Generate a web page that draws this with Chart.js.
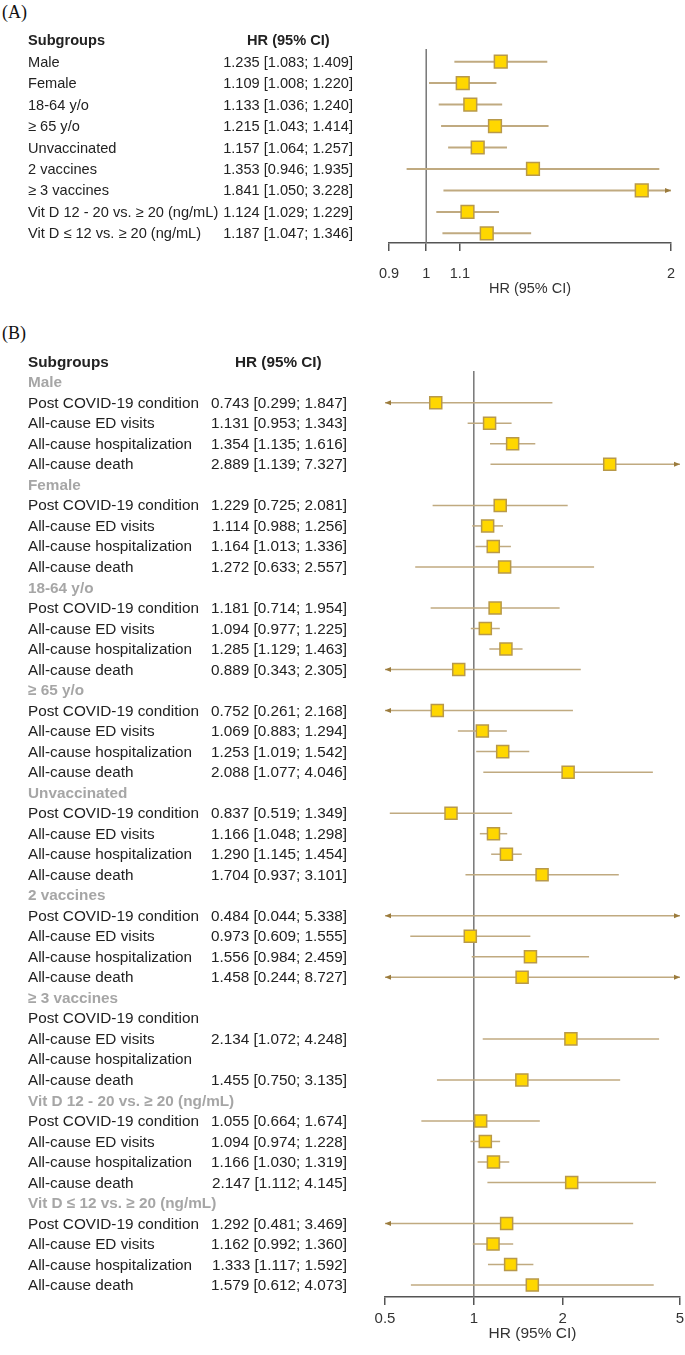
<!DOCTYPE html>
<html>
<head>
<meta charset="utf-8">
<script src="https://cdn.jsdelivr.net/npm/chart.js@4.4.1/dist/chart.umd.min.js"></script>
<style>
  body { margin: 0; background: #fff; }
  #page { position: relative; width: 685px; height: 1355px; overflow: hidden; font-family: "Liberation Sans", Arial, sans-serif; color: #222; }
  .txt { position: absolute; white-space: nowrap; }
  .panel { position: absolute; font-family: "Liberation Serif", "Times New Roman", serif; font-size: 18px; color: #111; }
  .box { position: absolute; left: 0; width: 685px; }
</style>
</head>
<body>
<div id="page">
  <div class="panel" style="left:2px; top:2px;">(A)</div>
  <div class="panel" style="left:2px; top:323px;">(B)</div>
  <div class="box" style="top:40px; height:260px;"><canvas id="chartA"></canvas></div>
  <div class="box" style="top:355px; height:990px;"><canvas id="chartB"></canvas></div>
</div>
<script>
// ---- panel A: overall subgroups ----
const subgroupsA = ["Male", "Female", "18-64 y/o", "\u2265 65 y/o", "Unvaccinated", "2 vaccines", "\u2265 3 vaccines", "Vit D 12 - 20 vs. \u2265 20 (ng/mL)", "Vit D \u2264 12 vs. \u2265 20 (ng/mL)"];
const hrA = [1.235, 1.109, 1.133, 1.215, 1.157, 1.353, 1.841, 1.124, 1.187];
const loA = [1.083, 1.008, 1.036, 1.043, 1.064, 0.946, 1.050, 1.029, 1.047];
const hiA = [1.409, 1.220, 1.240, 1.414, 1.257, 1.935, 3.228, 1.229, 1.346];
const ticksA = [0.9, 1, 1.1, 2];

// ---- panel B: outcomes within subgroups ----
const groupsB = ["Male", "Female", "18-64 y/o", "\u2265 65 y/o", "Unvaccinated", "2 vaccines", "\u2265 3 vaccines", "Vit D 12 - 20 vs. \u2265 20 (ng/mL)", "Vit D \u2264 12 vs. \u2265 20 (ng/mL)"];
const outcomesB = ["Post COVID-19 condition", "All-cause ED visits", "All-cause hospitalization", "All-cause death"];
const hrB = [
  [0.743, 1.131, 1.354, 2.889],
  [1.229, 1.114, 1.164, 1.272],
  [1.181, 1.094, 1.285, 0.889],
  [0.752, 1.069, 1.253, 2.088],
  [0.837, 1.166, 1.290, 1.704],
  [0.484, 0.973, 1.556, 1.458],
  [null, 2.134, null, 1.455],
  [1.055, 1.094, 1.166, 2.147],
  [1.292, 1.162, 1.333, 1.579],
];
const loB = [
  [0.299, 0.953, 1.135, 1.139],
  [0.725, 0.988, 1.013, 0.633],
  [0.714, 0.977, 1.129, 0.343],
  [0.261, 0.883, 1.019, 1.077],
  [0.519, 1.048, 1.145, 0.937],
  [0.044, 0.609, 0.984, 0.244],
  [null, 1.072, null, 0.750],
  [0.664, 0.974, 1.030, 1.112],
  [0.481, 0.992, 1.117, 0.612],
];
const hiB = [
  [1.847, 1.343, 1.616, 7.327],
  [2.081, 1.256, 1.336, 2.557],
  [1.954, 1.225, 1.463, 2.305],
  [2.168, 1.294, 1.542, 4.046],
  [1.349, 1.298, 1.454, 3.101],
  [5.338, 1.555, 2.459, 8.727],
  [null, 4.248, null, 3.135],
  [1.674, 1.228, 1.319, 4.145],
  [3.469, 1.360, 1.592, 4.073],
];
const ticksB = [0.5, 1, 2, 5];

const page = document.getElementById("page");

function addText(str, left, top, h, size, extra) {
  const d = document.createElement("div");
  d.className = "txt";
  d.textContent = str;
  d.style.left = left + "px";
  d.style.top = top - h / 2 + "px";
  d.style.height = h + "px";
  d.style.lineHeight = h + "px";
  d.style.fontSize = size + "px";
  Object.assign(d.style, extra || {});
  page.appendChild(d);
  return d;
}

function addRight(str, right, top, h, size, extra) {
  const d = addText(str, 0, top, h, size, extra);
  d.style.left = "auto";
  d.style.right = 685 - right + "px";
  return d;
}

const fmt = (hr, lo, hi) => hr.toFixed(3) + " [" + lo.toFixed(3) + "; " + hi.toFixed(3) + "]";

// whiskers, arrows and the reference line at HR = 1
const forestPlugin = {
  id: "forest",
  beforeDatasetsDraw(chart) {
    const o = chart.options.plugins.forest;
    const { ctx, chartArea } = chart;
    const xs = chart.scales.x;
    const ys = chart.scales.y;
    ctx.save();
    const x1 = xs.getPixelForValue(1);
    ctx.strokeStyle = "#777";
    ctx.lineWidth = 1.5;
    ctx.beginPath();
    ctx.moveTo(x1, chartArea.top);
    ctx.lineTo(x1, chartArea.bottom);
    ctx.stroke();

    o.rows.forEach((r) => {
      const y = ys.getPixelForValue(r.row);
      const a = r.lo < xs.min ? chartArea.left : xs.getPixelForValue(r.lo);
      const b = r.hi > xs.max ? chartArea.right : xs.getPixelForValue(r.hi);
      ctx.strokeStyle = "#c0aa80";
      ctx.lineWidth = o.width;
      ctx.beginPath();
      ctx.moveTo(a, y);
      ctx.lineTo(b, y);
      ctx.stroke();
      ctx.fillStyle = "#9b7b3c";
      if (r.lo < xs.min) {
        ctx.beginPath();
        ctx.moveTo(a + 6, y - 2.5);
        ctx.lineTo(a, y);
        ctx.lineTo(a + 6, y + 2.5);
        ctx.closePath();
        ctx.fill();
      }
      if (r.hi > xs.max) {
        ctx.beginPath();
        ctx.moveTo(b - 6, y - 2.5);
        ctx.lineTo(b, y);
        ctx.lineTo(b - 6, y + 2.5);
        ctx.closePath();
        ctx.fill();
      }
    });
    ctx.restore();
  },
};

function makeForest(id, rows, cfg) {
  const inRange = rows.filter((r) => r.hr >= cfg.min && r.hr <= cfg.max);
  const pts = inRange.map((r) => ({ x: r.hr, y: r.row }));
  return new Chart(document.getElementById(id), {
    type: "scatter",
    data: {
      datasets: [
        {
          data: pts,
          pointStyle: "rect",
          pointRadius: cfg.radius,
          backgroundColor: "#ffd700",
          borderColor: "#b8994a",
          borderWidth: 1.5,
        },
        {
          data: pts,
          pointStyle: "line",
          rotation: 90,
          pointRadius: 3,
          borderColor: "#8a6d2c",
          borderWidth: 1,
        },
      ],
    },
    options: {
      responsive: true,
      maintainAspectRatio: false,
      animation: false,
      layout: {
        autoPadding: false,
        padding: { left: cfg.left, right: cfg.right, top: cfg.top, bottom: 4 },
      },
      plugins: {
        legend: { display: false },
        tooltip: { enabled: false },
        forest: { rows: rows, width: cfg.lineWidth },
      },
      scales: {
        x: {
          type: "logarithmic",
          min: cfg.min,
          max: cfg.max,
          afterBuildTicks: (scale) => {
            scale.ticks = cfg.ticks.map((v) => ({ value: v }));
          },
          afterFit: (scale) => {
            // fixed axis box so the plot area lines up with the table rows
            scale.height = cfg.axisH;
            scale.paddingLeft = 0;
            scale.paddingRight = 0;
          },
          ticks: {
            autoSkip: false,
            maxRotation: 0,
            padding: cfg.tickPad,
            color: "#333",
            font: { family: "'Liberation Sans', Arial, sans-serif", size: cfg.tickSize, lineHeight: 1 },
            callback: (v) => String(v),
          },
          grid: { drawOnChartArea: false, drawTicks: true, tickLength: 8, color: "#555", lineWidth: 1.5 },
          border: { display: true, color: "#555", width: 1.5 },
          title: {
            display: true,
            text: "HR (95% CI)",
            color: "#333",
            padding: { top: 0, bottom: 0 },
            font: { family: "'Liberation Sans', Arial, sans-serif", size: cfg.titleSize, lineHeight: 1 },
          },
        },
        y: {
          type: "linear",
          display: false,
          reverse: true,
          min: cfg.ymin,
          max: cfg.ymax,
        },
      },
    },
    plugins: [forestPlugin],
  });
}

// ---- panel A text + chart ----
const rowA0 = 61.7, stepA = 21.45, sizeA = 14.6;
addText("Subgroups", 28, rowA0 - stepA, 20, sizeA, { fontWeight: "bold" });
addText("HR (95% CI)", 247, rowA0 - stepA, 20, sizeA, { fontWeight: "bold" });
const rowsA = [];
subgroupsA.forEach((s, i) => {
  addText(s, 28, rowA0 + i * stepA, 20, sizeA);
  addRight(fmt(hrA[i], loA[i], hiA[i]), 353, rowA0 + i * stepA, 20, sizeA);
  rowsA.push({ row: i, hr: hrA[i], lo: loA[i], hi: hiA[i] });
});
makeForest("chartA", rowsA, {
  min: 0.9, max: 2, ticks: ticksA, left: 389, right: 14, top: 9,
  ymin: -0.59, ymax: 8.45, radius: 9, lineWidth: 2,
  axisH: 53, tickPad: 15.5, tickSize: 14.5, titleSize: 14.5,
});

// ---- panel B text + chart ----
const rowB0 = 382.3, stepB = 20.52, sizeB = 15.3;
addText("Subgroups", 28, rowB0 - stepB, 20, sizeB, { fontWeight: "bold" });
addText("HR (95% CI)", 235, rowB0 - stepB, 20, sizeB, { fontWeight: "bold" });
const rowsB = [];
groupsB.forEach((g, gi) => {
  const base = gi * 5;
  addText(g, 28, rowB0 + base * stepB, 20, sizeB, { fontWeight: "bold", color: "#a6a6a6" });
  outcomesB.forEach((o, oi) => {
    const r = base + oi + 1;
    const y = rowB0 + r * stepB;
    addText(o, 28, y, 20, sizeB);
    if (hrB[gi][oi] == null) return;
    addRight(fmt(hrB[gi][oi], loB[gi][oi], hiB[gi][oi]), 347, y, 20, sizeB);
    rowsB.push({ row: r, hr: hrB[gi][oi], lo: loB[gi][oi], hi: hiB[gi][oi] });
  });
});
makeForest("chartB", rowsB, {
  min: 0.5, max: 5, ticks: ticksB, left: 385, right: 5, top: 16,
  ymin: -0.55, ymax: 44.58, radius: 8.5, lineWidth: 1.5,
  axisH: 44, tickPad: 6, tickSize: 15, titleSize: 15.5,
});
</script>
</body>
</html>
